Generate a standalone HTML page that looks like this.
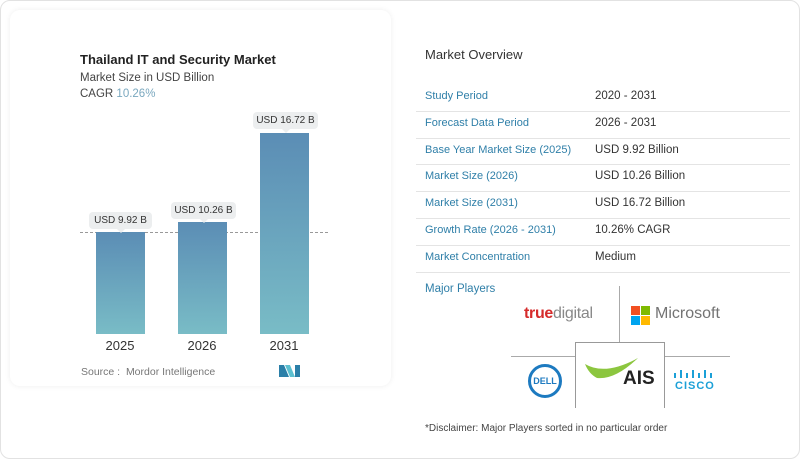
<!DOCTYPE html>
<html><head><meta charset="utf-8"><style>
*{margin:0;padding:0;box-sizing:border-box}
body{width:800px;height:459px;background:#fff;font-family:"Liberation Sans",sans-serif;position:relative;overflow:hidden}
.a{position:absolute;white-space:nowrap}
.outer{left:0;top:0;width:800px;height:459px;border:1px solid #e2e2e2;border-radius:10px}
.card{left:10px;top:10px;width:381px;height:376px;border-radius:10px;box-shadow:0 0 6px rgba(0,0,0,0.07);background:#fff}
.bar{position:absolute;width:49px;background:linear-gradient(#5b8db5,#79bcc6)}
.pill{position:absolute;height:17px;background:#eceeef;border-radius:4px;font-size:10px;color:#333;text-align:center;line-height:17px}
.pill:after{content:"";position:absolute;left:50%;bottom:-4px;margin-left:-4px;border:4px solid transparent;border-bottom:0;border-top-color:#eceeef}
.yr{font-size:13px;color:#333;width:60px;text-align:center}
.lab{left:425px;font-size:11px;color:#2f7fa8}
.val{left:595px;font-size:11.5px;color:#333}
.ln{left:416px;width:374px;height:1px;background:#e4e4e4}
</style></head><body>
<div class="a outer"></div>
<div class="a card"></div>
<div class="a" style="left:80px;top:52px;font-size:13px;font-weight:bold;color:#222">Thailand IT and Security Market</div>
<div class="a" style="left:80px;top:72px;font-size:11.5px;color:#444">Market Size in USD Billion</div>
<div class="a" style="left:80px;top:88px;font-size:11.5px;color:#444">CAGR <span style="color:#7aa8bf">10.26%</span></div>
<div class="a" style="left:80px;top:232px;width:248px;border-top:1px dashed #999"></div>
<div class="bar" style="left:96px;top:232px;height:102px"></div>
<div class="bar" style="left:178px;top:222px;height:112px"></div>
<div class="bar" style="left:260px;top:133px;height:201px"></div>
<div class="pill" style="left:89px;top:212px;width:63px">USD 9.92 B</div>
<div class="pill" style="left:171px;top:202px;width:65px">USD 10.26 B</div>
<div class="pill" style="left:253px;top:112px;width:65px">USD 16.72 B</div>
<div class="a yr" style="left:90px;top:338px">2025</div>
<div class="a yr" style="left:172px;top:338px">2026</div>
<div class="a yr" style="left:254px;top:338px">2031</div>
<div class="a" style="left:81px;top:366px;font-size:10.5px;color:#777">Source :&nbsp; Mordor Intelligence</div>
<svg class="a" style="left:279px;top:365px" width="22" height="12"><polygon points="0,12 0,0 5,0 10,12" fill="#2b7fa8"/><polygon points="6,0 11,0 16,12 11,12" fill="#5cc0d0"/><polygon points="16,0 21,0 21,12 16,12" fill="#2b7fa8"/></svg>
<div class="a" style="left:425px;top:47px;font-size:13px;color:#333">Market Overview</div>
<div class="a lab" style="top:90px">Study Period</div><div class="a val" style="top:90px">2020 - 2031</div><div class="a ln" style="top:111px"></div>
<div class="a lab" style="top:117px">Forecast Data Period</div><div class="a val" style="top:117px">2026 - 2031</div><div class="a ln" style="top:138px"></div>
<div class="a lab" style="top:144px">Base Year Market Size (2025)</div><div class="a val" style="top:144px">USD 9.92 Billion</div><div class="a ln" style="top:164px"></div>
<div class="a lab" style="top:170px">Market Size (2026)</div><div class="a val" style="top:170px">USD 10.26 Billion</div><div class="a ln" style="top:191px"></div>
<div class="a lab" style="top:197px">Market Size (2031)</div><div class="a val" style="top:197px">USD 16.72 Billion</div><div class="a ln" style="top:218px"></div>
<div class="a lab" style="top:224px">Growth Rate (2026 - 2031)</div><div class="a val" style="top:224px">10.26% CAGR</div><div class="a ln" style="top:245px"></div>
<div class="a lab" style="top:251px">Market Concentration</div><div class="a val" style="top:251px">Medium</div><div class="a ln" style="top:272px"></div>
<div class="a" style="left:425px;top:283px;font-size:11.5px;color:#2f7fa8">Major Players</div>
<div class="a" style="left:619px;top:286px;width:1px;height:56px;background:#aaa"></div>
<div class="a" style="left:511px;top:356px;width:219px;height:1px;background:#aaa"></div>
<div class="a" style="left:575px;top:342px;width:90px;height:66px;border:1px solid #999;border-bottom:none;background:#fff"></div>
<div class="a" style="left:524px;top:305px;font-size:16px;font-weight:bold;color:#d52b2b;letter-spacing:-0.3px">true<span style="color:#888;font-weight:normal">digital</span></div>
<svg class="a" style="left:631px;top:306px" width="19" height="19"><rect x="0" y="0" width="9" height="9" fill="#f25022"/><rect x="10" y="0" width="9" height="9" fill="#7fba00"/><rect x="0" y="10" width="9" height="9" fill="#00a4ef"/><rect x="10" y="10" width="9" height="9" fill="#ffb900"/></svg>
<div class="a" style="left:655px;top:305px;font-size:16px;color:#737373">Microsoft</div>
<div class="a" style="left:528px;top:364px;width:34px;height:34px;border:3px solid #1d7ac0;border-radius:50%;font-size:9px;font-weight:bold;color:#1d7ac0;text-align:center;line-height:28px">DELL</div>
<svg class="a" style="left:585px;top:358px" width="55" height="25"><path d="M0,6 Q20,18 53,0 Q30,22 12,20 Q4,16 0,6Z" fill="#8cc63f"/></svg>
<div class="a" style="left:623px;top:368px;font-size:19px;font-weight:bold;color:#222">AIS</div>
<svg class="a" style="left:673px;top:369px" width="45" height="10"><g fill="#1ba0d7"><rect x="1" y="4" width="2" height="5"/><rect x="7" y="1" width="2" height="8"/><rect x="13" y="4" width="2" height="5"/><rect x="19" y="1" width="2" height="8"/><rect x="25" y="4" width="2" height="5"/><rect x="31" y="1" width="2" height="8"/><rect x="37" y="4" width="2" height="5"/></g></svg>
<div class="a" style="left:675px;top:380px;font-size:11px;font-weight:bold;color:#1ba0d7;letter-spacing:1px">CISCO</div>
<div class="a" style="left:425px;top:423px;font-size:10px;color:#444">*Disclaimer: Major Players sorted in no particular order</div>
</body></html>
